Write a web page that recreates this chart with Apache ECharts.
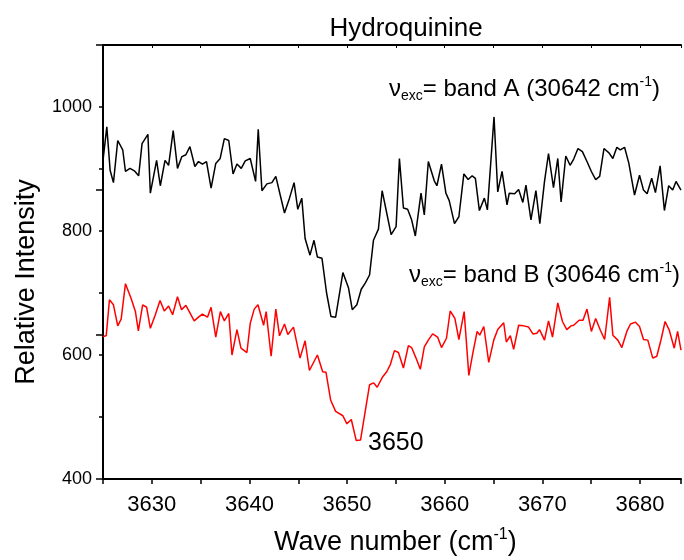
<!DOCTYPE html>
<html>
<head>
<meta charset="utf-8">
<script src="https://cdn.jsdelivr.net/npm/echarts@6/dist/echarts.min.js"></script>
<style>
  html, body { margin: 0; padding: 0; background: #fff; }
  #chart { width: 684px; height: 560px; }
</style>
</head>
<body>
<div id="chart"></div>
<script>
// band A spectrum (black)
const bandAX = [3625.0, 3625.39, 3625.73, 3626.07, 3626.51, 3627.02, 3627.3, 3627.77, 3628.21, 3628.65,
  3629.0, 3629.6, 3629.85, 3630.49, 3630.87, 3631.35, 3631.72, 3632.19, 3632.63, 3633.08,
  3633.49, 3633.9, 3634.41, 3634.78, 3635.18, 3635.6, 3636.07, 3636.55, 3637.0, 3637.43,
  3637.88, 3638.32, 3638.72, 3639.16, 3639.57, 3640.08, 3640.63, 3640.9, 3641.28, 3641.79,
  3642.3, 3642.7, 3643.15, 3643.59, 3644.1, 3644.57, 3644.95, 3645.36, 3645.7, 3646.2,
  3646.61, 3646.96, 3647.43, 3647.9, 3648.35, 3648.83, 3649.57, 3650.15, 3650.53, 3651.0,
  3651.45, 3651.86, 3652.3, 3652.7, 3653.21, 3653.59, 3654.06, 3654.51, 3655.02, 3655.36,
  3655.77, 3656.2, 3656.61, 3656.99, 3657.57, 3657.91, 3658.32, 3658.93, 3659.2, 3659.67,
  3660.12, 3660.46, 3661.0, 3661.45, 3661.96, 3662.4, 3662.81, 3663.14, 3663.55, 3664.06,
  3664.37, 3665.05, 3665.43, 3665.87, 3666.38, 3666.61, 3667.16, 3667.57, 3668.0, 3668.32,
  3668.83, 3669.34, 3669.74, 3670.22, 3670.63, 3671.14, 3671.58, 3671.92, 3672.4, 3672.84,
  3673.21, 3673.65, 3674.1, 3674.57, 3675.02, 3675.46, 3675.87, 3676.31, 3676.82, 3677.22,
  3677.63, 3677.98, 3678.42, 3678.86, 3679.44, 3679.95, 3680.36, 3680.73, 3681.2, 3681.58,
  3682.06, 3682.5, 3682.94, 3683.35, 3683.69, 3684.2];
const bandAY = [914, 968, 898, 878, 946, 931, 896, 901, 897, 889,
  941, 956, 861, 914, 873, 914, 906, 962, 901, 920,
  923, 936, 904, 912, 908, 912, 869, 909, 917, 949,
  946, 892, 908, 901, 913, 917, 880, 964, 865, 876,
  878, 888, 858, 829, 853, 878, 835, 853, 788, 761,
  785, 758, 756, 700, 662, 661, 733, 708, 673, 681,
  706, 716, 729, 785, 803, 865, 829, 794, 807, 917,
  837, 835, 818, 792, 861, 826, 912, 881, 873, 908,
  861, 849, 812, 823, 892, 883, 889, 885, 833, 853,
  834, 984, 863, 896, 842, 861, 860, 867, 846, 874,
  818, 865, 812, 880, 925, 870, 917, 847, 921, 906,
  916, 933, 928, 912, 896, 883, 888, 933, 926, 917,
  935, 931, 935, 909, 858, 890, 866, 860, 885, 862,
  905, 833, 873, 866, 880, 866];

// band B spectrum (red)
const bandBX = [3625.0, 3625.33, 3625.66, 3626.07, 3626.51, 3626.86, 3627.3, 3627.88, 3628.32, 3628.62,
  3629.06, 3629.47, 3629.85, 3630.36, 3630.84, 3631.28, 3631.72, 3632.13, 3632.63, 3633.04,
  3633.49, 3633.93, 3634.34, 3634.78, 3635.18, 3635.7, 3636.07, 3636.55, 3637.02, 3637.43,
  3637.88, 3638.21, 3638.72, 3639.13, 3639.74, 3640.08, 3640.49, 3640.87, 3641.45, 3641.71,
  3642.22, 3642.7, 3643.08, 3643.59, 3643.93, 3644.51, 3645.18, 3645.7, 3646.14, 3646.96,
  3647.5, 3647.84, 3648.32, 3648.83, 3649.57, 3649.98, 3650.43, 3650.94, 3651.38, 3652.3,
  3652.73, 3653.08, 3653.65, 3654.06, 3654.44, 3654.85, 3655.26, 3655.77, 3656.28, 3656.61,
  3657.06, 3657.5, 3657.91, 3658.32, 3658.76, 3659.27, 3659.67, 3660.18, 3660.56, 3661.04,
  3661.45, 3661.99, 3662.47, 3662.88, 3663.32, 3663.59, 3664.0, 3664.51, 3665.02, 3665.43,
  3666.04, 3666.31, 3666.72, 3667.06, 3667.57, 3668.08, 3668.59, 3669.03, 3669.44, 3669.71,
  3670.22, 3670.63, 3671.04, 3671.58, 3672.06, 3672.5, 3672.94, 3673.21, 3673.76, 3674.16,
  3674.57, 3675.02, 3675.46, 3675.94, 3676.38, 3676.89, 3677.22, 3677.73, 3678.14, 3678.65,
  3679.03, 3679.54, 3679.95, 3680.36, 3680.8, 3681.31, 3681.72, 3682.16, 3682.57, 3683.0,
  3683.51, 3683.85, 3684.2];
const bandBY = [630, 631, 689, 681, 647, 658, 715, 691, 670, 639,
  681, 677, 643, 665, 688, 671, 679, 665, 694, 673,
  680, 667, 655, 661, 666, 661, 677, 629, 670, 655,
  667, 600, 641, 611, 604, 651, 674, 681, 648, 670,
  598, 674, 631, 650, 633, 645, 595, 623, 575, 600,
  573, 572, 527, 509, 502, 489, 496, 462, 463, 552,
  555, 548, 565, 573, 585, 607, 604, 579, 615, 612,
  595, 577, 613, 624, 634, 629, 612, 627, 671, 659,
  625, 670, 567, 603, 638, 632, 646, 588, 624, 641,
  652, 621, 631, 609, 648, 647, 645, 634, 635, 641,
  624, 655, 629, 684, 654, 641, 647, 648, 656, 656,
  674, 638, 659, 640, 625, 693, 632, 624, 612, 638,
  650, 653, 646, 625, 624, 595, 598, 625, 654, 640,
  611, 638, 608];

const xMin = 3625, xMax = 3684.2;
const yMin = 400, yMax = 1100;

const FONT = 'Liberation Sans, Arial, sans-serif';

function zip(xs, ys) {
  return xs.map((x, i) => [x, ys[i]]);
}

const chart = echarts.init(document.getElementById('chart'), null, { renderer: 'canvas' });

const richLabel = {
  n: { fontSize: 24, fontFamily: FONT, color: '#000', lineHeight: 28 },
  sub: { fontSize: 14, fontFamily: FONT, color: '#000', lineHeight: 15, verticalAlign: 'bottom' },
  sup: { fontSize: 14, fontFamily: FONT, color: '#000', lineHeight: 15, verticalAlign: 'top' }
};

var option = {
  animation: false,
  backgroundColor: '#fff',
  title: {
    text: 'Hydroquinine',
    left: 401,
    top: 11,
    textAlign: 'center',
    textStyle: { fontSize: 26, fontWeight: 'normal', fontFamily: FONT, color: '#000' }
  },
  grid: { left: 103, right: 0, top: 45, bottom: 81 },
  xAxis: [{
    type: 'value',
    min: xMin,
    max: xMax,
    interval: 5,
    position: 'bottom',
    axisLine: { lineStyle: { color: '#000', width: 2 } },
    axisTick: { length: 5, lineStyle: { color: '#000', width: 1.5 } },
    axisLabel: {
      margin: 15,
      fontSize: 22,
      fontFamily: FONT,
      color: '#000',
      formatter: v => (v % 10 === 0 ? String(v) : '')
    },
    splitLine: { show: false }
  }, {
    type: 'value',
    min: xMin,
    max: xMax,
    interval: 5,
    position: 'top',
    axisLine: { lineStyle: { color: '#000', width: 2 } },
    axisTick: { inside: true, length: 3, lineStyle: { color: '#000', width: 1 } },
    axisLabel: { show: false },
    splitLine: { show: false }
  }],
  yAxis: [{
    type: 'value',
    min: yMin,
    max: yMax,
    interval: 100,
    axisLine: { show: true, lineStyle: { color: '#000', width: 2 } },
    axisTick: { length: 4, lineStyle: { color: '#000', width: 1.5 } },
    axisLabel: {
      margin: 11,
      fontSize: 18,
      fontFamily: FONT,
      color: '#000',
      formatter: v => (v % 200 === 0 ? String(v) : '')
    },
    splitLine: { show: false }
  }, {
    // longer ticks for the labelled values
    type: 'value',
    min: yMin,
    max: 1000,
    interval: 200,
    position: 'left',
    axisLine: { show: false },
    axisTick: { length: 7, lineStyle: { color: '#000', width: 1.5 } },
    axisLabel: { show: false },
    splitLine: { show: false }
  }],
  series: [{
    name: 'band A',
    type: 'line',
    xAxisIndex: 0,
    yAxisIndex: 0,
    data: zip(bandAX, bandAY),
    showSymbol: false,
    lineStyle: { color: '#000', width: 1.5 }
  }, {
    name: 'band B',
    type: 'line',
    xAxisIndex: 0,
    yAxisIndex: 0,
    data: zip(bandBX, bandBY),
    showSymbol: false,
    lineStyle: { color: '#ff0000', width: 1.5 }
  }],
  graphic: [{
    type: 'text',
    left: 389,
    top: 75,
    style: {
      text: '{n|ν}{sub|exc}{n|= band A (30642 cm}{sup|-1}{n|)}',
      rich: richLabel
    }
  }, {
    type: 'text',
    left: 409,
    top: 261,
    style: {
      text: '{n|ν}{sub|exc}{n|= band B (30646 cm}{sup|-1}{n|)}',
      rich: richLabel
    }
  }, {
    type: 'text',
    left: 368,
    top: 431,
    style: { text: '3650', fontSize: 25, fontFamily: FONT, fill: '#000' }
  }, {
    type: 'text',
    x: 27,
    y: 282,
    rotation: Math.PI / 2,
    style: {
      text: 'Relative Intensity',
      fontSize: 27,
      fontFamily: FONT,
      fill: '#000',
      align: 'center',
      verticalAlign: 'middle'
    }
  }, {
    type: 'text',
    left: 274,
    top: 527,
    style: {
      text: '{n|Wave number (cm}{sup|-1}{n|)}',
      rich: {
        n: { fontSize: 27, fontFamily: FONT, color: '#000', lineHeight: 31 },
        sup: { fontSize: 16, fontFamily: FONT, color: '#000', lineHeight: 17, verticalAlign: 'top' }
      }
    }
  }]
};

chart.setOption(option);
</script>
</body>
</html>
